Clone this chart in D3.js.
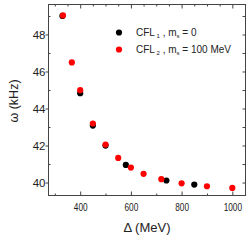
<!DOCTYPE html>
<html><head><meta charset="utf-8">
<script src="https://cdn.jsdelivr.net/npm/d3@7"></script>
<style>body{margin:0;background:#fff}svg{display:block}text{font-family:"Liberation Sans",Arial,sans-serif;fill:#222}</style>
</head><body><svg id="c" width="252" height="242"></svg>
<script>
const cfl1Delta = [330, 400, 450, 500, 580, 740, 850];
const cfl1Omega = [49.0, 44.83, 43.08, 42.0, 40.95, 40.11, 39.89];
const cfl2Delta = [332, 367, 400, 450, 500, 550, 600, 650, 720, 800, 900, 1000];
const cfl2Omega = [49.03, 46.49, 44.99, 43.19, 42.05, 41.33, 40.81, 40.47, 40.18, 39.96, 39.8, 39.71];
const xTicks = [400, 600, 800, 1000];
const yTicks = [40, 42, 44, 46, 48];
const seriesNames = ["CFL1", "CFL2"];

const svg = d3.select("#c");
const L = 48.5, R = 245.5, T = 4.5, B = 195.5;
const x = d3.scaleLinear().domain([275, 1052]).range([L, R]);
const y = d3.scaleLinear().domain([39.3, 49.62]).range([B, T]);

svg.append("rect").attr("x", L).attr("y", T).attr("width", R - L).attr("height", B - T)
  .attr("fill", "none").attr("stroke", "#444").attr("stroke-width", 1);

const axStyle = (g, fs) => { g.select(".domain").remove(); g.selectAll("line").attr("stroke", "#444");
  g.selectAll("text").attr("fill", "#222").style("font-size", fs || "10px").style("font-family", "Liberation Sans, Arial, sans-serif"); };

// bottom axis
const bx = svg.append("g").attr("transform", `translate(0,${B})`)
  .call(d3.axisBottom(x).tickValues(xTicks).tickSize(-4).tickPadding(8).tickFormat(d3.format("d")))
  .call(g => axStyle(g, "11px"));
bx.selectAll("text").attr("textLength", d => String(d).length * 4.6).attr("lengthAdjust", "spacingAndGlyphs");
svg.append("g").attr("transform", `translate(0,${B})`)
  .call(d3.axisBottom(x).tickValues(d3.range(300, 1051, 100).filter(v => !xTicks.includes(v))).tickSize(-2).tickFormat(""))
  .call(axStyle);
// top axis
svg.append("g").attr("transform", `translate(0,${T})`)
  .call(d3.axisTop(x).tickValues(xTicks).tickSize(-4).tickFormat(""))
  .call(axStyle);
svg.append("g").attr("transform", `translate(0,${T})`)
  .call(d3.axisTop(x).tickValues(d3.range(300, 1051, 50).filter(v => !xTicks.includes(v))).tickSize(-2).tickFormat(""))
  .call(axStyle);
// left axis
svg.append("g").attr("transform", `translate(${L},0)`)
  .call(d3.axisLeft(y).tickValues(yTicks).tickSize(3).tickPadding(0).tickFormat(d3.format("d")))
  .call(g => axStyle(g, "11.5px"));
svg.append("g").attr("transform", `translate(${L},0)`)
  .call(d3.axisLeft(y).tickValues(d3.range(40, 50, 1).filter(v => !yTicks.includes(v))).tickSize(-2).tickFormat(""))
  .call(axStyle);
// right axis
svg.append("g").attr("transform", `translate(${R},0)`)
  .call(d3.axisRight(y).tickValues(d3.range(40, 50, 1)).tickSize(-3).tickFormat(""))
  .call(axStyle);

// data
const d1 = cfl1Delta.map((d, i) => ({ x: d, y: cfl1Omega[i] }));
const d2 = cfl2Delta.map((d, i) => ({ x: d, y: cfl2Omega[i] }));
svg.append("g").selectAll("circle").data(d1).join("circle")
  .attr("cx", d => x(d.x)).attr("cy", d => y(d.y)).attr("r", 3.1).attr("fill", "#000");
svg.append("g").selectAll("circle").data(d2).join("circle")
  .attr("cx", d => x(d.x)).attr("cy", d => y(d.y)).attr("r", 3.1).attr("fill", "#f00");

// legend
const leg = svg.append("g");
const rows = [{ c: "#000", sub: "1", rest: "= 0", yy: 32.5 }, { c: "#f00", sub: "2", rest: "= 100 MeV", yy: 49.5 }];
rows.forEach(r => {
  leg.append("circle").attr("cx", 119).attr("cy", r.yy).attr("r", 3.1).attr("fill", r.c);
  const t = leg.append("text").attr("x", 136).attr("y", r.yy + 3.5).style("font-size", "10px");
  t.append("tspan").text("CFL");
  t.append("tspan").attr("dy", 2).style("font-size", "6px").text(" " + r.sub);
  t.append("tspan").attr("dy", -2).text(" , m");
  t.append("tspan").attr("dy", 2).style("font-size", "6px").text("s");
  t.append("tspan").attr("dy", -2).text(" " + r.rest);
});

// axis titles
svg.append("text").attr("x", 147).attr("y", 231.5).attr("text-anchor", "middle")
  .style("font-size", "13px").text("Δ (MeV)");
svg.append("text").attr("transform", `translate(17.5,101) rotate(-90)`).attr("text-anchor", "middle")
  .style("font-size", "12.5px").text("ω (kHz)");
</script></body></html>
